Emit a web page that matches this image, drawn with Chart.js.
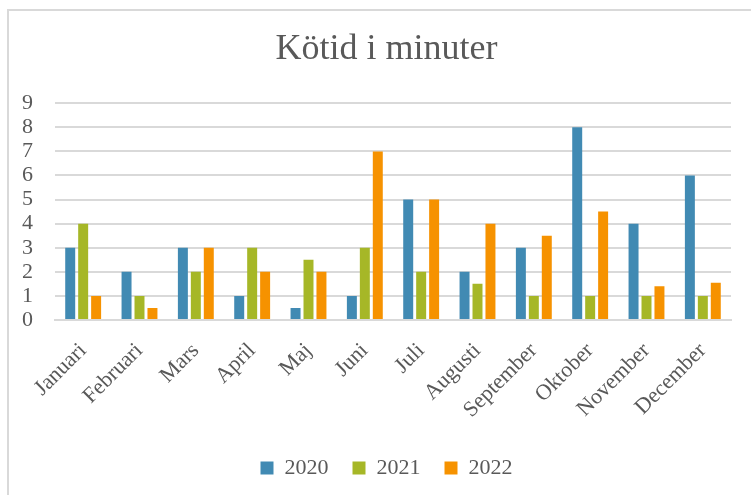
<!DOCTYPE html>
<html>
<head>
<meta charset="utf-8">
<script src="https://cdn.jsdelivr.net/npm/chart.js@4"></script>
<style>
    html, body { margin: 0; padding: 0; background: #fff; }
    #wrap { position: relative; width: 751px; height: 495px; overflow: hidden; }
    #frame {
        position: absolute; left: 7px; top: 9px; width: 800px; height: 600px;
        border-left: 2px solid #d9d9d9; border-top: 2px solid #d9d9d9;
    }
    canvas { position: absolute; left: 0; top: 0; }
</style>
</head>
<body>
<div id="wrap">
    <div id="frame"></div>
    <canvas id="chart" width="751" height="495"></canvas>
</div>
<script>
const months = ["Januari", "Februari", "Mars", "April", "Maj", "Juni", "Juli",
    "Augusti", "September", "Oktober", "November", "December"];
const y2020 = [3, 2, 3, 1, 0.5, 1, 5, 2, 3, 8, 4, 6];
const y2021 = [4, 1, 2, 3, 2.5, 3, 2, 1.5, 1, 1, 1, 1];
const y2022 = [1, 0.5, 3, 2, 2, 7, 5, 4, 3.5, 4.5, 1.4, 1.55];

const serif = "'Liberation Serif', 'Times New Roman', serif";
Chart.defaults.font.family = serif;
Chart.defaults.color = "#595959";

new Chart(document.getElementById("chart"), {
    type: "bar",
    data: {
        labels: months,
        datasets: [
            { label: "2020", data: y2020, backgroundColor: "#418AB3" },
            { label: "2021", data: y2021, backgroundColor: "#A6B727" },
            { label: "2022", data: y2022, backgroundColor: "#F69200" },
        ],
    },
    options: {
        responsive: false,
        animation: false,
        datasets: { bar: { categoryPercentage: 0.69, barPercentage: 0.77 } },
        layout: { padding: { left: 22, right: 0, top: 28, bottom: 6 } },
        plugins: {
            title: {
                display: true,
                text: "Kötid i minuter",
                color: "#595959",
                font: { size: 36, weight: "normal" },
                padding: { top: 0, bottom: 32 },
            },
            legend: {
                position: "bottom",
                labels: {
                    boxWidth: 13,
                    boxHeight: 13,
                    padding: 24,
                    color: "#595959",
                    font: { size: 22 },
                },
            },
            tooltip: { enabled: false },
        },
        scales: {
            x: {
                grid: { display: false },
                border: { color: "#d9d9d9", width: 2 },
                ticks: {
                    minRotation: 45,
                    maxRotation: 45,
                    color: "#595959",
                    font: { size: 22 },
                    padding: 10,
                },
                afterFit: (scale) => {
                    scale.height = 113;
                    scale.paddingLeft = 0;
                },
            },
            y: {
                min: 0,
                max: 9,
                border: { display: false },
                grid: { color: "#d9d9d9", lineWidth: 2, drawTicks: false },
                ticks: {
                    stepSize: 1,
                    autoSkip: false,
                    color: "#595959",
                    font: { size: 22 },
                    padding: 22,
                },
                afterFit: (scale) => {
                    scale.width = 33;
                },
            },
            // empty right axis, only keeps a margin right of the plot
            yRight: {
                position: "right",
                grid: { display: false },
                border: { display: false },
                ticks: { display: false },
                afterFit: (scale) => {
                    scale.width = 20;
                },
            },
        },
    },
});
</script>
</body>
</html>
